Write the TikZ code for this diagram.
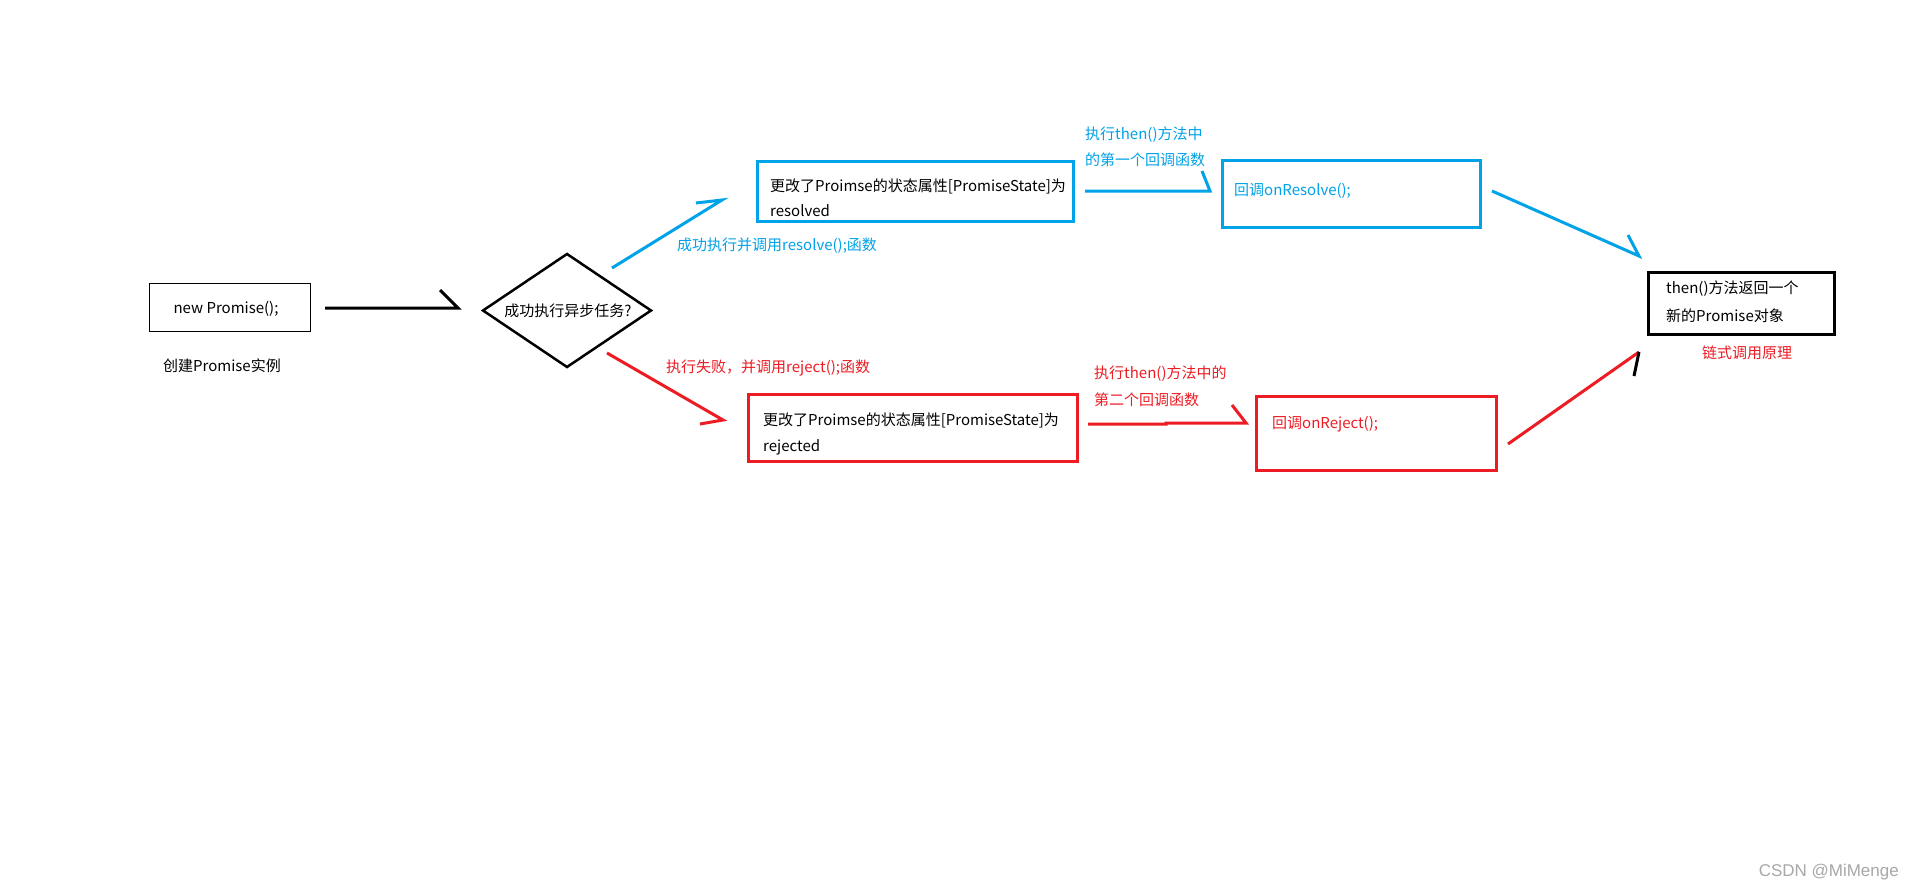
\documentclass[tikz,border=0pt]{standalone}
\usepackage{fontspec}
\setmainfont{Noto Sans CJK SC}
\newfontfamily\wmfont{Liberation Sans}
\definecolor{pblue}{HTML}{00A2E8}
\definecolor{pred}{HTML}{ED1C24}
\definecolor{wmgray}{HTML}{A8A8A8}
\tikzset{
  txt/.style={inner sep=0pt, font=\fontsize{15}{17}\selectfont},
  boxb/.style={draw=black, line width=1pt, inner sep=0pt},
  boxthick/.style={draw=#1, line width=3pt, inner sep=0pt},
  stroke/.style={draw=#1, line width=3pt, line cap=butt},
}
\begin{document}
\begin{tikzpicture}[x=1pt,y=-1pt]
\useasboundingbox[fill=white] (0,0) rectangle (1914,891);

% start box
\node[boxb, minimum width=161pt, minimum height=48pt] (np) at (229.5,307) {};
\node[txt] (npt) at (226,309) {new Promise();};
\node[txt] (npl) at (222,366) {创建Promise实例};

% black arrow
\coordinate (a1s) at (325,308);
\coordinate (a1e) at (458,308);
\coordinate (a1h) at (440,290);
\draw[stroke=black] (a1s) -- (a1e) -- (a1h);

% diamond
\coordinate (dc) at (567,310.5);
\coordinate (dl) at (483,310.5);
\coordinate (dr) at (651,310.5);
\coordinate (dt) at (567,254);
\coordinate (db) at (567,367);
\draw[line width=2.5pt, line join=miter] (dl) -- (dt) -- (dr) -- (db) -- cycle;
\node[txt] (dia) at (568,311) {成功执行异步任务?};

% blue arrow to resolved
\coordinate (b1s) at (612,268);
\coordinate (b1e) at (722,200);
\coordinate (b1h) at (696,203);
\draw[stroke=pblue] (b1s) -- (b1e) -- (b1h);
\node[txt, text=pblue, anchor=west] (b1l) at (677,246) {成功执行并调用resolve();函数};

% resolved box
\node[boxthick=pblue, minimum width=316pt, minimum height=60pt] (res) at (915,191.5) {};
\node[txt, anchor=west] (res1) at (770,186) {更改了Proimse的状态属性[PromiseState]为};
\node[txt, anchor=west] (res2) at (770,211) {resolved};

% blue arrow to onResolve
\coordinate (b2s) at (1085,191);
\coordinate (b2e) at (1210,191);
\coordinate (b2h) at (1202,171);
\draw[stroke=pblue] (b2s) -- (b2e) -- (b2h);
\node[txt, text=pblue, anchor=west] (b2l1) at (1085,135) {执行then()方法中};
\node[txt, text=pblue, anchor=west] (b2l2) at (1085,160) {的第一个回调函数};

% onResolve box
\node[boxthick=pblue, minimum width=258pt, minimum height=67pt] (onres) at (1351,193.5) {};
\node[txt, text=pblue, anchor=west] (onrest) at (1234,191) {回调onResolve();};

% blue arrow to final
\coordinate (b3s) at (1492,191);
\coordinate (b3e) at (1639,256);
\coordinate (b3h) at (1628,235);
\draw[stroke=pblue] (b3s) -- (b3e) -- (b3h);

% final box
\node[draw=black, line width=3pt, inner sep=0pt, minimum width=186pt, minimum height=62pt] (fin) at (1741,303) {};
\node[txt, anchor=west] (fin1) at (1666,289) {then()方法返回一个};
\node[txt, anchor=west] (fin2) at (1666,316) {新的Promise对象};
\node[txt, text=pred] (finl) at (1747,353) {链式调用原理};

% red arrow to rejected
\coordinate (r1s) at (607,353);
\coordinate (r1e) at (723,420);
\coordinate (r1h) at (700,424);
\draw[stroke=pred] (r1s) -- (r1e) -- (r1h);
\node[txt, text=pred, anchor=west] (r1l) at (666,368) {执行失败，并调用reject();函数};

% rejected box
\node[boxthick=pred, minimum width=329pt, minimum height=67pt] (rej) at (912.5,427.5) {};
\node[txt, anchor=west] (rej1) at (763,420) {更改了Proimse的状态属性[PromiseState]为};
\node[txt, anchor=west] (rej2) at (763,447) {rejected};

% red arrow to onReject
\coordinate (r2s) at (1088,424);
\coordinate (r2m1) at (1166,424);
\coordinate (r2m2) at (1166,423);
\coordinate (r2e) at (1246,423);
\coordinate (r2h) at (1232,405);
\draw[stroke=pred] (r2s) -- (r2m1) -- (r2m2) -- (r2e) -- (r2h);
\node[txt, text=pred, anchor=west] (r2l1) at (1094,374) {执行then()方法中的};
\node[txt, text=pred, anchor=west] (r2l2) at (1094,400) {第二个回调函数};

% onReject box
\node[boxthick=pred, minimum width=240pt, minimum height=74pt] (onrej) at (1376,433) {};
\node[txt, text=pred, anchor=west] (onrejt) at (1272,424) {回调onReject();};

% red arrow to final
\coordinate (r3s) at (1508,444);
\coordinate (r3e) at (1639,352);
\coordinate (r3h) at (1634,376);
\draw[stroke=pred] (r3s) -- (r3e);
\draw[stroke=black] (r3e) -- (r3h);

% watermark
\node[inner sep=0pt, anchor=east, text=wmgray, font=\wmfont\fontsize{17}{19}\selectfont] (wm) at (1899,872) {CSDN @MiMenge};
\end{tikzpicture}
\end{document}
